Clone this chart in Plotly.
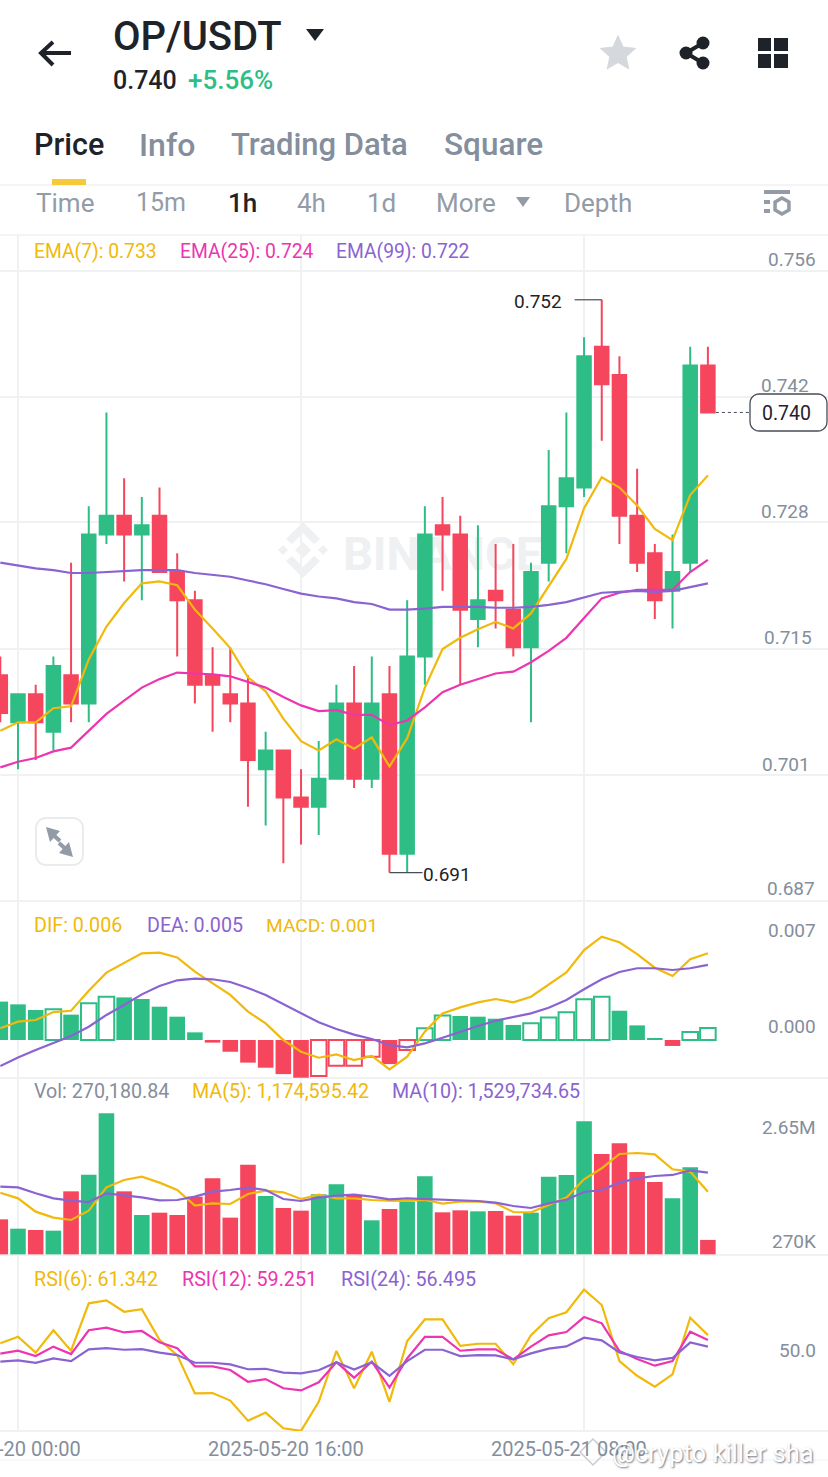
import math
import pandas as pd
import plotly.graph_objects as go

W = 828
H = 1477
FONT = "Roboto"

GREEN = "#2ebd85"
RED = "#f6465d"
YELLOW = "#f0b90b"
PINK = "#ec35b0"
PURPLE = "#8a63d2"
GRAY = "#848e9c"
DARK = "#1e2329"
GRID = "#f0f1f3"
LEGEND_SIZE = 19.7

# hourly candles, first one is cut by the left edge
dates = pd.date_range("2025-05-19 23:00", periods=41, freq="h")

opens = [0.712, 0.707, 0.710, 0.706, 0.712, 0.709, 0.727, 0.729, 0.727, 0.729, 0.723, 0.720, 0.712, 0.710, 0.709,
         0.702, 0.704, 0.699, 0.698, 0.701, 0.709, 0.701, 0.710, 0.693, 0.714, 0.728, 0.727, 0.718, 0.721, 0.719,
         0.715, 0.724, 0.730, 0.732, 0.747, 0.744, 0.729, 0.725, 0.721, 0.724, 0.745]
highs = [0.714, 0.710, 0.711, 0.714, 0.724, 0.730, 0.740, 0.733, 0.731, 0.732, 0.725, 0.721, 0.715, 0.715, 0.712,
         0.706, 0.704, 0.702, 0.705, 0.711, 0.713, 0.714, 0.713, 0.720, 0.730, 0.731, 0.729, 0.728, 0.726, 0.726,
         0.724, 0.736, 0.740, 0.748, 0.752, 0.746, 0.734, 0.726, 0.727, 0.747, 0.747]
lows = [0.707, 0.702, 0.703, 0.704, 0.707, 0.707, 0.726, 0.722, 0.720, 0.723, 0.714, 0.709, 0.706, 0.707, 0.698,
        0.696, 0.692, 0.694, 0.695, 0.701, 0.700, 0.700, 0.691, 0.691, 0.711, 0.721, 0.711, 0.715, 0.717, 0.714,
        0.707, 0.722, 0.725, 0.731, 0.737, 0.726, 0.723, 0.718, 0.717, 0.723, 0.740]
closes = [0.708, 0.710, 0.707, 0.713, 0.709, 0.727, 0.729, 0.727, 0.728, 0.723, 0.720, 0.711, 0.711, 0.709, 0.703,
          0.704, 0.699, 0.698, 0.701, 0.709, 0.701, 0.709, 0.693, 0.714, 0.727, 0.727, 0.719, 0.720, 0.720, 0.715,
          0.723, 0.730, 0.733, 0.746, 0.743, 0.729, 0.724, 0.720, 0.723, 0.745, 0.740]

ema7 = [0.7061, 0.7070, 0.7070, 0.7085, 0.7087, 0.7137, 0.7172, 0.7197, 0.7218, 0.7220, 0.7216, 0.7190, 0.7170, 0.7149,
        0.7118, 0.7103, 0.7074, 0.7050, 0.7040, 0.7052, 0.7042, 0.7054, 0.7023, 0.7053, 0.7107, 0.7148, 0.7160, 0.7169,
        0.7177, 0.7170, 0.7186, 0.7215, 0.7244, 0.7298, 0.7331, 0.7320, 0.7301, 0.7276, 0.7264, 0.7312, 0.7333]
ema25 = [0.7022, 0.7028, 0.7032, 0.7039, 0.7043, 0.7061, 0.7079, 0.7093, 0.7107, 0.7116, 0.7123, 0.7122, 0.7121, 0.7119,
         0.7113, 0.7107, 0.7097, 0.7088, 0.7082, 0.7083, 0.7078, 0.7078, 0.7067, 0.7072, 0.7086, 0.7102, 0.7110, 0.7116,
         0.7122, 0.7124, 0.7134, 0.7146, 0.7160, 0.7181, 0.7202, 0.7208, 0.7211, 0.7211, 0.7211, 0.7230, 0.7243]
ema99 = [0.7240, 0.7237, 0.7234, 0.7232, 0.7229, 0.7229, 0.7230, 0.7231, 0.7232, 0.7232, 0.7232, 0.7229, 0.7227, 0.7225,
         0.7221, 0.7217, 0.7212, 0.7207, 0.7204, 0.7202, 0.7198, 0.7196, 0.7190, 0.7190, 0.7191, 0.7193, 0.7193, 0.7193,
         0.7192, 0.7192, 0.7193, 0.7195, 0.7198, 0.7203, 0.7208, 0.7209, 0.7210, 0.7209, 0.7210, 0.7214, 0.7218]

# MACD panel, in thousandths
dif = [0.81, 1.27, 1.38, 1.93, 2.02, 3.40, 4.65, 5.34, 5.98, 6.03, 5.70, 4.72, 3.91, 3.11, 1.96, 1.15, 0.0, -0.81, -1.22,
       -0.99, -1.38, -1.10, -2.02, -1.15, 0.58, 1.84, 2.25, 2.60, 2.83, 2.60, 2.99, 3.80, 4.67, 6.21, 7.13, 6.74, 5.93,
       4.99, 4.42, 5.57, 5.98]
dea = [-1.79, -1.20, -0.69, -0.18, 0.28, 0.92, 1.73, 2.42, 3.15, 3.73, 4.12, 4.23, 4.19, 4.00, 3.59, 3.11, 2.48, 1.84,
       1.22, 0.76, 0.37, 0.07, -0.35, -0.51, -0.23, 0.16, 0.58, 0.97, 1.33, 1.56, 1.84, 2.23, 2.76, 3.50, 4.19, 4.69,
       4.95, 4.95, 4.83, 4.95, 5.18]
macd = [2.65, 2.46, 2.07, 2.12, 1.75, 2.53, 2.99, 2.94, 2.83, 2.30, 1.61, 0.53, -0.18, -0.81, -1.56, -1.91, -2.35, -2.60,
        -2.48, -1.77, -1.77, -1.15, -1.66, -0.69, 0.81, 1.70, 1.66, 1.61, 1.47, 1.04, 1.15, 1.56, 1.91, 2.81, 2.99, 2.02,
        1.01, 0.14, -0.41, 0.55, 0.83]
macd_hollow = [0, 0, 0, 1, 0, 1, 1, 0, 0, 0, 0, 0, 0, 0, 0, 0, 0, 0, 1, 1, 1, 1, 0, 1, 1, 1, 0, 0, 0, 0, 1, 1, 1, 1, 1,
               0, 0, 0, 0, 1, 1]

# volume panel, in millions
volume = [0.656, 0.481, 0.456, 0.444, 1.181, 1.494, 2.644, 1.181, 0.738, 0.781, 0.738, 1.081, 1.425, 0.688, 1.681, 1.094,
          0.869, 0.819, 1.125, 1.313, 1.113, 0.638, 0.850, 0.988, 1.463, 0.788, 0.825, 0.806, 0.813, 0.725, 0.781, 1.456,
          1.488, 2.494, 1.881, 2.081, 1.544, 1.356, 1.050, 1.631, 0.270]
vol_ma5 = [1.156, 1.050, 0.800, 0.688, 0.644, 0.819, 1.256, 1.394, 1.456, 1.344, 1.206, 0.913, 0.956, 0.944, 1.131, 1.194,
           1.163, 1.038, 1.119, 1.050, 1.050, 1.019, 1.006, 1.000, 1.019, 0.950, 0.988, 0.994, 0.956, 0.794, 0.788, 0.925,
           1.063, 1.406, 1.613, 1.881, 1.900, 1.875, 1.594, 1.550, 1.175]
vol_ma10 = [1.269, 1.256, 1.144, 1.050, 1.006, 0.981, 1.144, 1.113, 1.069, 1.013, 1.019, 1.081, 1.175, 1.206, 1.250, 1.206,
            1.038, 1.000, 1.063, 1.100, 1.119, 1.081, 1.031, 1.050, 1.038, 1.013, 1.000, 1.000, 0.969, 0.906, 0.869, 0.956,
            1.025, 1.169, 1.206, 1.344, 1.425, 1.469, 1.488, 1.575, 1.531]

rsi6 = [57.9, 60.6, 54.0, 63.3, 54.8, 74.5, 75.7, 71.0, 72.1, 59.3, 53.0, 37.1, 37.2, 34.1, 25.7, 29.1, 22.6, 21.5, 33.6,
        54.7, 39.2, 54.4, 33.6, 58.8, 67.8, 67.8, 56.8, 57.7, 57.7, 49.2, 61.3, 68.3, 70.8, 80.2, 73.8, 50.5, 44.4, 39.9,
        45.0, 68.5, 61.3]
rsi12 = [53.6, 54.8, 52.6, 56.5, 53.4, 63.3, 64.4, 62.4, 63.0, 58.3, 55.8, 48.3, 48.3, 46.8, 41.9, 43.0, 39.2, 38.3, 41.7,
         50.0, 43.6, 50.3, 39.5, 51.6, 60.6, 60.6, 54.8, 55.4, 55.4, 51.2, 56.5, 61.2, 62.6, 68.8, 66.2, 54.7, 51.4, 48.6,
         50.5, 62.7, 59.3]
rsi24 = [50.3, 50.8, 49.8, 51.6, 50.5, 55.4, 55.9, 55.2, 55.5, 54.0, 53.0, 49.8, 49.8, 49.1, 47.1, 47.3, 45.7, 45.4, 46.7,
         50.0, 47.0, 50.0, 44.4, 50.5, 55.2, 55.2, 52.6, 53.0, 52.9, 51.2, 53.7, 55.7, 56.6, 60.2, 59.1, 54.1, 52.2, 50.8,
         51.8, 58.2, 56.5]

price_grid = [0.7551, 0.7417, 0.7283, 0.7148, 0.7014]
price_labels = ["0.756", "0.742", "0.728", "0.715", "0.701", "0.687"]
date_ticks = ["2025-05-20 00:00", "2025-05-20 16:00", "2025-05-21 08:00"]


def py(y):
    return 1 - y / H


def label(text, x, y, size, color, weight=400, anchor="left"):
    # annotations keep a small inner pad, take it back
    x = x - 2 if anchor == "left" else x + 2 if anchor == "right" else x
    return dict(text=text, x=x / W, y=py(y), xref="paper", yref="paper", xanchor=anchor, yanchor="middle",
                showarrow=False, font=dict(family=FONT, size=size, color=color, weight=weight))


def line(x0, y0, x1, y1, color=GRID, width=1.5, dash="solid"):
    return dict(type="line", xref="paper", yref="paper", x0=x0 / W, y0=py(y0), x1=x1 / W, y1=py(y1),
                line=dict(color=color, width=width, dash=dash), layer="below")


def poly(points, fill=None, color=None, width=0, closed=True):
    # icons, in page pixels
    path = "M" + " L".join(f"{x / W:.5f},{py(y):.5f}" for x, y in points)
    if closed:
        path += " Z"
    return dict(type="path", xref="paper", yref="paper", path=path, fillcolor=fill or "rgba(0,0,0,0)",
                line=dict(color=color or "rgba(0,0,0,0)", width=width))


def circle(cx, cy, r, fill=None, color=None, width=0):
    return dict(type="circle", xref="paper", yref="paper", x0=(cx - r) / W, x1=(cx + r) / W, y0=py(cy + r), y1=py(cy - r),
                fillcolor=fill or "rgba(0,0,0,0)", line=dict(color=color or "rgba(0,0,0,0)", width=width))


def rect(x0, y0, x1, y1, fill):
    return dict(type="rect", xref="paper", yref="paper", x0=x0 / W, x1=x1 / W, y0=py(y1), y1=py(y0), fillcolor=fill,
                line=dict(width=0))


def rounded(x0, y0, x1, y1, r, color, width, fill="white"):
    pts = []
    for cx, cy, a in [(x1 - r, y0 + r, -90), (x1 - r, y1 - r, 0), (x0 + r, y1 - r, 90), (x0 + r, y0 + r, 180)]:
        for k in range(6):
            t = math.radians(a + k * 18)
            pts.append((cx + r * math.cos(t), cy + r * math.sin(t)))
    return poly(pts, fill=fill, color=color, width=width)


up = [c >= o for o, c in zip(opens, closes)]
vol_colors = [GREEN if u else RED for u in up]
macd_colors = [GREEN if v >= 0 else RED for v in macd]
macd_fill = ["white" if h else c for h, c in zip(macd_hollow, macd_colors)]
macd_line_w = [2 if h else 0 for h in macd_hollow]
LINE_W = 2.2

fig = go.Figure()
fig.add_trace(go.Candlestick(x=dates, open=opens, high=highs, low=lows, close=closes,
                             increasing=dict(line=dict(color=GREEN, width=2), fillcolor=GREEN),
                             decreasing=dict(line=dict(color=RED, width=2), fillcolor=RED),
                             xaxis="x", yaxis="y"))
for series, color in [(ema7, YELLOW), (ema25, PINK), (ema99, PURPLE)]:
    fig.add_trace(go.Scatter(x=dates, y=series, mode="lines", line=dict(color=color, width=LINE_W), xaxis="x", yaxis="y"))

bar_width = 0.88 * 3600000
fig.add_trace(go.Bar(x=dates, y=macd, width=bar_width, xaxis="x2", yaxis="y2",
                     marker=dict(color=macd_fill, line=dict(color=macd_colors, width=macd_line_w))))
for series, color in [(dif, YELLOW), (dea, PURPLE)]:
    fig.add_trace(go.Scatter(x=dates, y=series, mode="lines", line=dict(color=color, width=LINE_W), xaxis="x2", yaxis="y2"))

fig.add_trace(go.Bar(x=dates, y=volume, width=bar_width, marker=dict(color=vol_colors, line=dict(width=0)),
                     xaxis="x3", yaxis="y3"))
for series, color in [(vol_ma5, YELLOW), (vol_ma10, PURPLE)]:
    fig.add_trace(go.Scatter(x=dates, y=series, mode="lines", line=dict(color=color, width=LINE_W), xaxis="x3", yaxis="y3"))

for series, color in [(rsi6, YELLOW), (rsi12, PINK), (rsi24, PURPLE)]:
    fig.add_trace(go.Scatter(x=dates, y=series, mode="lines", line=dict(color=color, width=LINE_W), xaxis="x4", yaxis="y4"))

x_range = ["2025-05-19 22:58:57", "2025-05-21 21:47:24"]
x_common = dict(range=x_range, type="date", tickvals=date_ticks, showgrid=True, gridcolor=GRID, gridwidth=1.5,
                zeroline=False, showline=False, ticks="", showticklabels=False, automargin=False)


def y_common(top, bottom, rng):
    return dict(domain=[py(bottom), py(top)], range=rng, showgrid=False, zeroline=False, showticklabels=False, ticks="",
                automargin=False)


fig.update_layout(
    width=W, height=H, margin=dict(l=0, r=0, t=0, b=0), paper_bgcolor="white", plot_bgcolor="white",
    showlegend=False, barmode="overlay", boxgap=0.237, boxgroupgap=0, font=dict(family=FONT),
    xaxis=dict(x_common, anchor="y", rangeslider=dict(visible=False)),
    xaxis2=dict(x_common, anchor="y2", matches="x"),
    xaxis3=dict(x_common, anchor="y3", matches="x"),
    xaxis4=dict(x_common, anchor="y4", matches="x"),
    yaxis=dict(y_common(235, 901, [0.68797, 0.7589]), showgrid=True, gridcolor=GRID, gridwidth=1.5, tickvals=price_grid),
    yaxis2=dict(y_common(901, 1078, [-2.62, 9.59])),
    yaxis3=dict(y_common(1078, 1255, [-0.0125, 3.306])),
    yaxis4=dict(y_common(1255, 1431, [21.45, 94.58])),
)

shapes = [line(0, 185, W, 185), line(0, 235, W, 235), line(0, 901, W, 901, width=2), line(0, 1078, W, 1078, width=2),
          line(0, 1255, W, 1255, width=2), line(0, 1431, W, 1431, width=2), line(0, 1460, W, 1460, width=1)]

# header icons
shapes += [poly([(71, 53), (41, 53)], color=DARK, width=4, closed=False),
           poly([(53, 42), (41, 53), (53, 65)], color=DARK, width=4, closed=False),
           poly([(306, 29), (324, 29), (315, 41)], fill=DARK)]
star = []
for k in range(10):
    r = 17 if k % 2 == 0 else 8
    t = math.radians(-90 + k * 36)
    star.append((618 + r * math.cos(t), 54 + r * math.sin(t)))
shapes.append(poly(star, fill="#d5d8dc", color="#d5d8dc", width=2))
shapes += [poly([(703, 43), (686, 53), (703, 63)], color=DARK, width=4, closed=False),
           circle(703, 43, 6.5, fill=DARK), circle(686, 53, 6.5, fill=DARK), circle(703, 63, 6.5, fill=DARK)]
shapes += [rect(758, 38, 771, 51, DARK), rect(774, 38, 788, 51, DARK), rect(758, 54, 771, 68, DARK), rect(774, 54, 788, 68, DARK)]
shapes.append(rect(52, 179, 86, 185, "#f5c93a"))
shapes.append(poly([(516, 197), (530, 197), (523, 207)], fill="#939ba6"))
shapes += [rect(764, 190, 790, 194, "#939ba6"), rect(764, 200, 770, 204, "#939ba6"), rect(764, 209, 770, 213, "#939ba6")]
hexagon = [(782 + 8 * math.cos(math.radians(30 + 60 * k)), 206 + 8 * math.sin(math.radians(30 + 60 * k))) for k in range(6)]
shapes.append(poly(hexagon, color="#939ba6", width=3.5))

# expand button
shapes.append(rounded(36, 818, 83, 865, 10, "#e9ebee", 2))
shapes += [poly([(46, 827), (60, 831), (50, 842)], fill="#939ba6"), poly([(50, 832), (60, 841)], color="#939ba6", width=4, closed=False),
           poly([(73, 857), (59, 853), (69, 842)], fill="#939ba6"), poly([(69, 852), (59, 843)], color="#939ba6", width=4, closed=False)]

# pale watermark behind the candles
for cx, cy, r in [(303, 550, 8), (283, 550, 5), (323, 550, 5)]:
    d = dict(poly([(cx, cy - r), (cx + r, cy), (cx, cy + r), (cx - r, cy)], fill="#eef0f2"), layer="below")
    shapes.append(d)
for pts in ([(303, 522), (320, 539), (314, 544), (303, 533), (292, 544), (286, 539)],
            [(303, 578), (320, 561), (314, 556), (303, 567), (292, 556), (286, 561)]):
    shapes.append(dict(poly(pts, fill="#eef0f2"), layer="below"))
shapes.append(dict(type="rect", xref="paper", yref="paper", x0=340 / W, x1=545 / W, y0=py(572), y1=py(528), layer="below",
                   line=dict(width=0), fillcolor="rgba(0,0,0,0)",
                   label=dict(text="BINANCE", font=dict(family=FONT, size=47, color="#eef0f2", weight=700),
                              textposition="middle center")))

# high, low and last price markers
hi = max(highs)
lo = min(lows)
hi_x = dates[highs.index(hi)]
lo_x = dates[lows.index(lo)]
shapes.append(dict(type="line", xref="x", yref="y", x0=hi_x - pd.Timedelta(minutes=92), x1=hi_x, y0=hi, y1=hi,
                   line=dict(color="#474d57", width=1.2)))
shapes.append(dict(type="line", xref="x", yref="y", x0=lo_x, x1=lo_x + pd.Timedelta(minutes=112), y0=lo, y1=lo,
                   line=dict(color="#474d57", width=1.2)))
shapes.append(dict(type="line", xref="x", yref="y", x0=dates[-1] + pd.Timedelta(minutes=27), x1=dates[-1] + pd.Timedelta(minutes=145),
                   y0=closes[-1], y1=closes[-1], line=dict(color="#474d57", width=1, dash="3px,3px")))
shapes.append(rounded(750, 394, 827, 431, 9, "#474d57", 1.3))

annotations = [
    label("OP/USDT", 113, 37, 40, DARK, 500),
    label("0.740", 113, 80, 25, DARK, 500),
    label("+5.56%", 188, 80, 26, GREEN, 500),
    label("Price", 34, 145, 30.5, DARK, 500),
    label("Info", 139, 145, 32, GRAY, 500),
    label("Trading Data", 231, 145, 31, GRAY, 500),
    label("Square", 444, 145, 31.5, GRAY, 500),
    label("Time", 36, 203, 26, "#939ba6"),
    label("15m", 136, 203, 25, "#939ba6"),
    label("1h", 228, 203, 26, DARK, 500),
    label("4h", 297, 203, 26, "#939ba6"),
    label("1d", 367, 203, 26, "#939ba6"),
    label("More", 436, 203, 26, "#939ba6"),
    label("Depth", 564, 203, 26, "#939ba6"),
    label("EMA(7): 0.733", 34, 252, 19.3, YELLOW),
    label("EMA(25): 0.724", 180, 252, 19.3, PINK),
    label("EMA(99): 0.722", 336, 252, 19.3, PURPLE),
    label("DIF: 0.006", 34, 925, LEGEND_SIZE, YELLOW),
    label("DEA: 0.005", 147, 925, LEGEND_SIZE, PURPLE),
    label("MACD: 0.001", 266, 925, 19.2, YELLOW),
    label("Vol: 270,180.84", 34, 1091, LEGEND_SIZE, GRAY),
    label("MA(5): 1,174,595.42", 192, 1091, LEGEND_SIZE, YELLOW),
    label("MA(10): 1,529,734.65", 392, 1091, LEGEND_SIZE, PURPLE),
    label("RSI(6): 61.342", 34, 1279, LEGEND_SIZE, YELLOW),
    label("RSI(12): 59.251", 182, 1279, LEGEND_SIZE, PINK),
    label("RSI(24): 56.495", 341, 1279, LEGEND_SIZE, PURPLE),
    label("0.007", 816, 931, 19, GRAY, anchor="right"),
    label("0.000", 816, 1026, 19, GRAY, anchor="right"),
    label("2.65M", 816, 1127, 19, GRAY, anchor="right"),
    label("270K", 816, 1241, 19, GRAY, anchor="right"),
    label("50.0", 816, 1350, 19, GRAY, anchor="right"),
]
for text, right, y in zip(price_labels, [816, 809, 809, 812, 810, 815], [260, 386, 512, 638, 764, 888]):
    annotations.append(label(text, right, y, 19, GRAY, anchor="right"))
annotations += [
    label(f"{hi:.3f}", 562, 301, 19, DARK, anchor="right"),
    label(f"{lo:.3f}", 423, 874, 19, DARK),
    label(f"{closes[-1]:.3f}", 786, 413, 19.5, DARK, anchor="center"),
]
# the date labels sit a bit left of their grid lines
for d in date_ticks:
    annotations.append(dict(text=d, x=d, xref="x4", y=py(1449), yref="paper", xanchor="center", yanchor="middle", xshift=-15,
                            showarrow=False, font=dict(family=FONT, size=20, color=GRAY)))
mark = label("@crypto killer sha", 612, 1453, 25.5, "white")
mark["font"]["shadow"] = "1px 1px 2px #6f7680"
annotations.append(mark)
shapes.append(dict(poly([(593, 1439), (606, 1452), (593, 1465), (580, 1452)], color="#c8ccd2", width=1.5), layer="above"))

fig.update_layout(shapes=shapes, annotations=annotations)

fig.write_html("out.html", post_script="document.body.style.margin='0';", config=dict(displayModeBar=False))
